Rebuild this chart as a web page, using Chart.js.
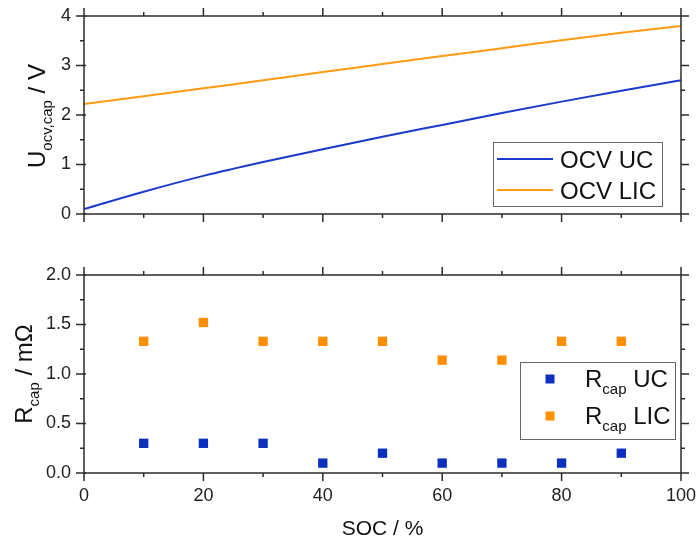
<!DOCTYPE html>
<html><head><meta charset="utf-8">
<script src="https://cdn.jsdelivr.net/npm/chart.js@4"></script>
<style>
html,body{margin:0;padding:0;background:#fff;}
#wrap{position:relative;width:698px;height:540px;overflow:hidden;}
#c1{position:absolute;left:0;top:0;}
#c2{position:absolute;left:0;top:250px;}
</style></head><body>
<div id="wrap"><canvas id="c1" width="698" height="250"></canvas><canvas id="c2" width="698" height="290"></canvas></div>
<script>
// ---- data ----
const socLine = [0,10,20,30,40,50,60,70,80,90,100];
const ocvUC  = [0.10,0.45,0.77,1.05,1.31,1.56,1.80,2.04,2.27,2.49,2.70];
const ocvLIC = [2.22,2.38,2.54,2.70,2.87,3.03,3.19,3.35,3.51,3.66,3.80];
const socPts = [10,20,30,40,50,60,70,80,90];
const rUC  = [0.30,0.30,0.30,0.10,0.20,0.10,0.10,0.10,0.20];
const rLIC = [1.33,1.52,1.33,1.33,1.33,1.14,1.14,1.33,1.33];
const socMajor = [0,20,40,60,80,100];
const socMinor = [10,30,50,70,90];
const ocvMajor = [0,1,2,3,4];
const ocvMinor = [0.5,1.5,2.5,3.5];
const rMajor = [0,0.5,1.0,1.5,2.0];
const rMinor = [0.25,0.75,1.25,1.75];

const FONT = '"Liberation Sans", Arial, Helvetica, sans-serif';
const BLUE_L = '#1b3acb', ORANGE_L = '#ff9a14';
const BLUE_M = '#0b2fbf', ORANGE_M = '#ff8f00';
const AX = '#2b2b2b';

function rich(ctx, parts, cx, cy, rot){
  ctx.save();
  ctx.translate(cx, cy);
  if (rot) ctx.rotate(rot);
  let total = 0;
  parts.forEach(p=>{ctx.font = p.size+'px '+FONT; p.w = ctx.measureText(p.t).width; total += p.w;});
  let x = -total/2;
  ctx.fillStyle = '#111';
  ctx.textBaseline = 'alphabetic';
  ctx.textAlign = 'left';
  parts.forEach(p=>{ctx.font = p.size+'px '+FONT; ctx.fillText(p.t, x, p.dy||0); x += p.w;});
  ctx.restore();
}
function richLeft(ctx, parts, x, y){
  ctx.save();
  ctx.fillStyle = '#111'; ctx.textBaseline='alphabetic'; ctx.textAlign='left';
  parts.forEach(p=>{ctx.font = p.size+'px '+FONT; ctx.fillText(p.t, x, y+(p.dy||0)); x += ctx.measureText(p.t).width;});
  ctx.restore();
}
function noPad(s){ s.paddingTop=0; s.paddingBottom=0; s.paddingLeft=0; s.paddingRight=0; }

const framePlugin = {
  id:'frame',
  afterDraw(chart, args, o){
    const ctx = chart.ctx, a = chart.chartArea, xs = chart.scales.x, ys = chart.scales.y;
    ctx.save();
    ctx.strokeStyle = AX; ctx.lineWidth = 1.5;
    ctx.strokeRect(a.left, a.top, a.right-a.left, a.bottom-a.top);
    const seg=(x1,y1,x2,y2)=>{ctx.beginPath();ctx.moveTo(x1,y1);ctx.lineTo(x2,y2);ctx.stroke();};
    const MJ=8, MN=4;
    o.xMajor.forEach(v=>{const p=xs.getPixelForValue(v); seg(p,a.top,p,a.top-MJ); seg(p,a.bottom,p,a.bottom+MJ);});
    o.xMinor.forEach(v=>{const p=xs.getPixelForValue(v); seg(p,a.top,p,a.top-MN); seg(p,a.bottom,p,a.bottom+MN);});
    o.yMajor.forEach(v=>{const p=ys.getPixelForValue(v); seg(a.left+2,p,a.left-MJ,p); seg(a.right,p,a.right+MJ,p);});
    o.yMinor.forEach(v=>{const p=ys.getPixelForValue(v); seg(a.left,p,a.left-MN,p); seg(a.right,p,a.right+MN,p);});
    ctx.restore();
    if (o.draw) o.draw(chart);
  }
};
Chart.register(framePlugin);

const tickFont = {family: FONT, size: 18};

// ---- top chart ----
new Chart(document.getElementById('c1'), {
  type:'line',
  data:{
    labels: socLine,
    datasets:[
      {label:'OCV UC', data: socLine.map((s,i)=>({x:s,y:ocvUC[i]})), borderColor:BLUE_L, borderWidth:2, pointRadius:0, cubicInterpolationMode:'monotone', fill:false},
      {label:'OCV LIC', data: socLine.map((s,i)=>({x:s,y:ocvLIC[i]})), borderColor:ORANGE_L, borderWidth:2, pointRadius:0, cubicInterpolationMode:'monotone', fill:false}
    ]
  },
  options:{
    responsive:false, animation:false, devicePixelRatio:1,
    layout:{padding:{left:0,right:17,top:16,bottom:0}},
    plugins:{
      legend:{display:false}, tooltip:{enabled:false},
      frame:{xMajor:socMajor,xMinor:socMinor,yMajor:ocvMajor,yMinor:ocvMinor,
        draw(chart){
          const ctx=chart.ctx;
          rich(ctx,[{t:'U',size:24},{t:'ocv,cap',size:15,dy:7},{t:' / V',size:24}],45,116,-Math.PI/2);
          ctx.save();
          ctx.strokeStyle='#666'; ctx.lineWidth=1;
          ctx.strokeRect(493.5,142.5,169,64);
          ctx.lineWidth=2;
          ctx.strokeStyle=BLUE_L; ctx.beginPath(); ctx.moveTo(497,159); ctx.lineTo(553,159); ctx.stroke();
          ctx.strokeStyle=ORANGE_L; ctx.beginPath(); ctx.moveTo(497,190); ctx.lineTo(553,190); ctx.stroke();
          ctx.restore();
          richLeft(ctx,[{t:'OCV UC',size:24}],560,168);
          richLeft(ctx,[{t:'OCV LIC',size:24}],560,199);
        }}
    },
    scales:{
      x:{type:'linear',min:0,max:100,grid:{display:false,drawTicks:false},border:{display:false},ticks:{display:false},afterFit(s){s.height=36;noPad(s);}},
      y:{min:0,max:4,grid:{display:false,drawTicks:false},border:{display:false},
         ticks:{stepSize:1,font:tickFont,color:'#222',padding:13},afterFit(s){s.width=84;noPad(s);}}
    }
  }
});

// ---- bottom chart ----
new Chart(document.getElementById('c2'), {
  type:'scatter',
  data:{
    datasets:[
      {label:'Rcap UC', data: socPts.map((s,i)=>({x:s,y:rUC[i]})), backgroundColor:BLUE_M, borderWidth:0, pointStyle:'rect', pointRadius:6.6},
      {label:'Rcap LIC', data: socPts.map((s,i)=>({x:s,y:rLIC[i]})), backgroundColor:ORANGE_M, borderWidth:0, pointStyle:'rect', pointRadius:6.6}
    ]
  },
  options:{
    responsive:false, animation:false, devicePixelRatio:1,
    layout:{padding:{left:0,right:17,top:25,bottom:0}},
    plugins:{
      legend:{display:false}, tooltip:{enabled:false},
      frame:{xMajor:socMajor,xMinor:socMinor,yMajor:rMajor,yMinor:rMinor,
        draw(chart){
          const ctx=chart.ctx;
          rich(ctx,[{t:'R',size:24},{t:'cap',size:15,dy:7},{t:' / m\u03A9',size:24}],32,124,-Math.PI/2);
          rich(ctx,[{t:'SOC / %',size:21}],382.5,285,0);
          ctx.save();
          ctx.strokeStyle='#666'; ctx.lineWidth=1;
          ctx.strokeRect(520.5,112.5,155,77);
          ctx.fillStyle=BLUE_M; ctx.fillRect(545.5,124.5,9,9);
          ctx.fillStyle=ORANGE_M; ctx.fillRect(545.5,161.5,9,9);
          ctx.restore();
          richLeft(ctx,[{t:'R',size:24},{t:'cap',size:15,dy:7},{t:' UC',size:24}],585,137);
          richLeft(ctx,[{t:'R',size:24},{t:'cap',size:15,dy:7},{t:' LIC',size:24}],585,174);
        }}
    },
    scales:{
      x:{type:'linear',min:0,max:100,grid:{display:false,drawTicks:false},border:{display:false},
         ticks:{stepSize:20,font:tickFont,color:'#222',padding:12,maxRotation:0},afterFit(s){s.height=67;noPad(s);}},
      y:{min:0,max:2,grid:{display:false,drawTicks:false},border:{display:false},
         ticks:{stepSize:0.5,font:tickFont,color:'#222',padding:13,callback:v=>Number(v).toFixed(1)},afterFit(s){s.width=84;noPad(s);}}
    }
  }
});
</script>
</body></html>
